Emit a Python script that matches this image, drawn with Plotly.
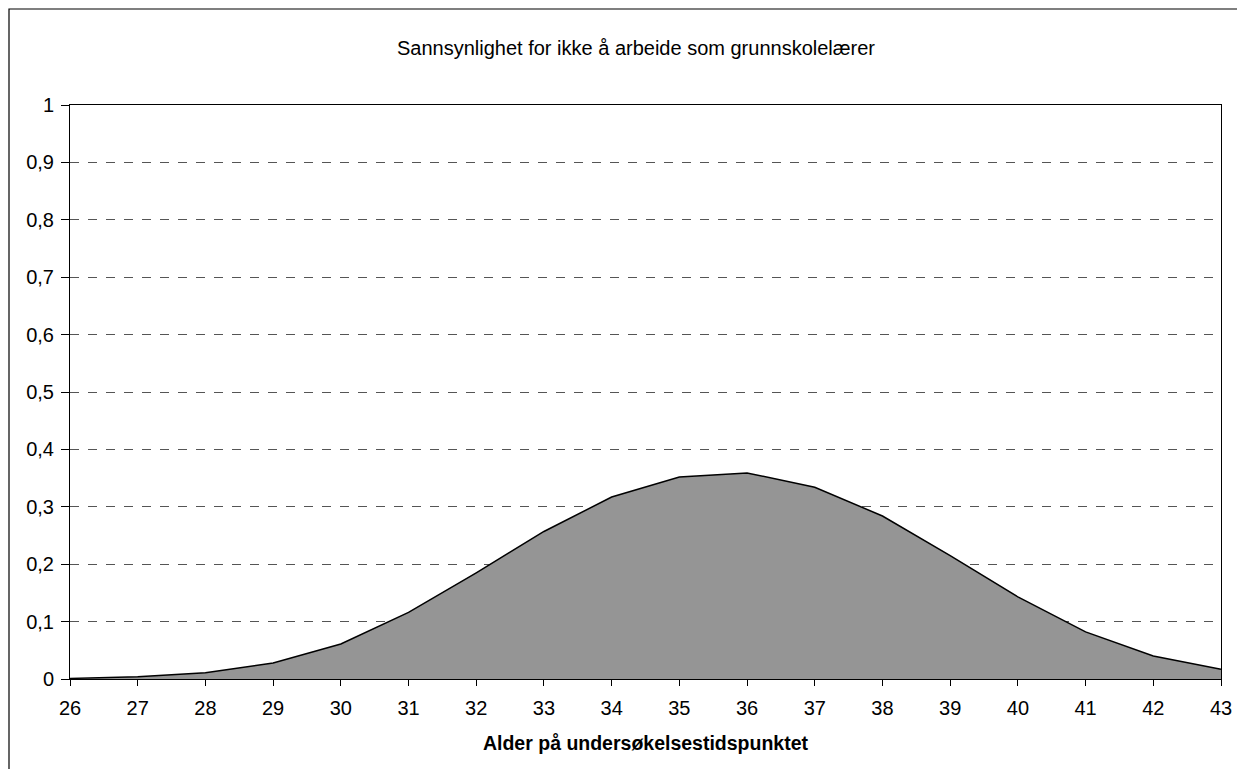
import plotly.graph_objects as go

ages = list(range(26, 44))
probability = [0.001, 0.004, 0.011, 0.028, 0.061, 0.116, 0.185, 0.257, 0.317,
               0.352, 0.359, 0.334, 0.284, 0.215, 0.143, 0.082, 0.040, 0.017]
y_ticks = [0, 0.1, 0.2, 0.3, 0.4, 0.5, 0.6, 0.7, 0.8, 0.9, 1]
y_tick_labels = ["0", "0,1", "0,2", "0,3", "0,4", "0,5", "0,6", "0,7", "0,8", "0,9", "1"]

title_text = "Sannsynlighet for ikke å arbeide som grunnskolelærer"
x_title = "Alder på undersøkelsestidspunktet"

FONT = "Liberation Sans, Arial, sans-serif"
W, H = 1237, 769
L, R, T, B = 70, 1221, 105, 679
PW, PH = R - L, B - T

fig = go.Figure()
fig.add_trace(go.Scatter(
    x=ages, y=probability, mode="lines", fill="tozeroy",
    fillcolor="#959595", line=dict(color="black", width=1.5),
    showlegend=False, hoverinfo="x+y"))

fig.update_layout(
    width=W, height=H,
    margin=dict(l=L, r=W - R, t=T, b=H - B),
    paper_bgcolor="white", plot_bgcolor="white",
    font=dict(family=FONT, color="black", size=20),
    title=dict(text=title_text, x=636 / W, xanchor="center",
               y=1 - 48 / H, yanchor="middle", automargin=False,
               font=dict(family=FONT, size=20, color="black")),
    xaxis=dict(range=[26, 43], tickmode="array", tickvals=ages,
               automargin=False,
               ticks="outside", ticklen=6, tickcolor="black",
               ticklabelstandoff=5,
               showline=True, linecolor="black", linewidth=1, mirror=True,
               showgrid=False, zeroline=False,
               tickfont=dict(family=FONT, size=20),
               title=dict(text="<b>" + x_title + "</b>", standoff=18,
                          font=dict(family=FONT, size=19.5))),
    yaxis=dict(range=[0, 1], tickmode="array", tickvals=y_ticks,
               ticktext=y_tick_labels, automargin=False,
               ticks="outside", ticklen=8, tickcolor="black",
               ticklabelstandoff=3,
               showline=True, linecolor="black", linewidth=1, mirror=True,
               showgrid=True, gridcolor="#555555", griddash="dash", gridwidth=1,
               zeroline=False, tickfont=dict(family=FONT, size=20)),
)

# outer chart border (extends beyond the visible picture at right and bottom)
fig.add_shape(type="rect", xref="paper", yref="paper",
              x0=(9 - L) / PW, x1=1.2, y0=-0.3, y1=(B - 9) / PH,
              line=dict(color="black", width=1.2), layer="below")

# remove the browser's default body margin so the figure fills the window
fig.write_html("out.html", config={"displayModeBar": False},
               post_script="document.body.style.margin='0';"
                           "document.body.style.overflow='hidden';")
